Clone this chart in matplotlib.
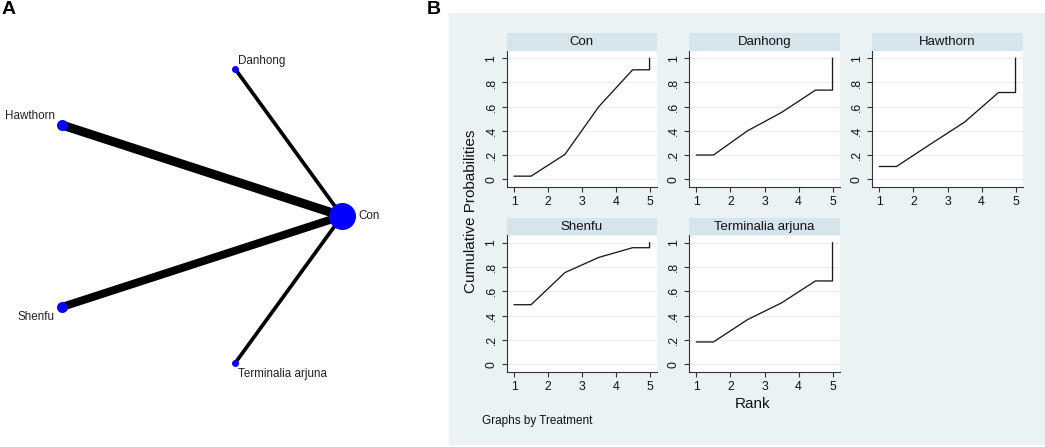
import numpy as np
import matplotlib
matplotlib.use("Agg")
import matplotlib.pyplot as plt
from matplotlib.patches import Rectangle

plt.rcParams['font.family'] = ['Liberation Sans', 'DejaVu Sans']

# ---------------- data ----------------
# Network (panel A)
nodes = ["Con", "Danhong", "Hawthorn", "Shenfu", "Terminalia arjuna"]
node_size = [27, 7, 11, 11, 7]          # marker diameter (px)
edges_to = ["Danhong", "Hawthorn", "Shenfu", "Terminalia arjuna"]
edge_weight = [3.7, 9.0, 8.0, 3.7]      # edge thickness (px)

# Cumulative ranking (panel B)
treatments = ["Con", "Danhong", "Hawthorn", "Shenfu", "Terminalia arjuna"]
ranks = [1, 2, 3, 4, 5]
cumprob = {
    "Con":               [0.025, 0.205, 0.600, 0.905, 1.0],
    "Danhong":           [0.200, 0.400, 0.552, 0.737, 1.0],
    "Hawthorn":          [0.105, 0.290, 0.472, 0.717, 1.0],
    "Shenfu":            [0.490, 0.755, 0.880, 0.960, 1.0],
    "Terminalia arjuna": [0.183, 0.367, 0.505, 0.686, 1.0],
}
yticks = [0, 0.2, 0.4, 0.6, 0.8, 1.0]
yticklabels = ["0", ".2", ".4", ".6", ".8", "1"]

# ---------------- figure ----------------
W, H = 1045, 447
fig = plt.figure(figsize=(W / 100, H / 100), dpi=100)
fig.patch.set_facecolor("white")

def rect(x0, y0, x1, y1):
    return [x0 / W, 1 - y1 / H, (x1 - x0) / W, (y1 - y0) / H]

PX = 72 / 100  # pixel -> points

# ---- panel A ----
axA = fig.add_axes([0, 0, 440 / W, 1])
axA.set_xlim(0, 440)
axA.set_ylim(H, 0)
axA.axis("off")
cx, cy, r = 187, 216, 155
angles = np.deg2rad(np.arange(len(nodes)) * 72.0)
pos = {n: (cx + r * np.cos(a), cy - r * np.sin(a)) for n, a in zip(nodes, angles)}
for n, w in zip(edges_to, edge_weight):
    x0, y0 = pos["Con"]
    x1, y1 = pos[n]
    axA.plot([x0, x1], [y0, y1], color="black", lw=w * PX,
             solid_capstyle="butt", zorder=1)
for n, s in zip(nodes, node_size):
    axA.scatter(*pos[n], s=(s * PX) ** 2, color="#0000FF", zorder=2, linewidths=0)
label_style = {
    "Con": dict(dx=16, dy=0, ha="left", va="center"),
    "Danhong": dict(dx=3, dy=-2, ha="left", va="bottom"),
    "Hawthorn": dict(dx=-7, dy=-3, ha="right", va="bottom"),
    "Shenfu": dict(dx=-7, dy=4, ha="right", va="top"),
    "Terminalia arjuna": dict(dx=3, dy=5, ha="left", va="top"),
}
for n in nodes:
    st = label_style[n]
    axA.text(pos[n][0] + st["dx"], pos[n][1] + st["dy"], n, ha=st["ha"],
             va=st["va"], fontsize=8.4, color="#222222")

fig.text(2 / W, 1 - 10 / H, "A", fontsize=14, fontweight="bold", va="center", ha="left")
fig.text(427 / W, 1 - 10 / H, "B", fontsize=14, fontweight="bold", va="center", ha="left")

# ---- panel B ----
bg = Rectangle((449 / W, 1 - 445 / H), (1045 - 449) / W, (445 - 13) / H,
               transform=fig.transFigure, facecolor="#EAF2F4", edgecolor="none", zorder=-10)
fig.patches.append(bg)

col_x = [(506.7, 657), (689, 840), (872, 1023)]
row_y = [(33.5, 51, 186.5), (218, 235.5, 371.5)]
axis_col = "#333333"
for i, t in enumerate(treatments):
    rr, cc = divmod(i, 3)
    x0, x1 = col_x[cc]
    hy0, py0, py1 = row_y[rr]
    hax = fig.add_axes(rect(x0, hy0, x1, py0))
    hax.set_facecolor("#D6E5EC")
    hax.set_xticks([]); hax.set_yticks([])
    for sp in hax.spines.values():
        sp.set_visible(False)
    hax.text(0.5, 0.5, t, ha="center", va="center", fontsize=9.5,
             transform=hax.transAxes, color="#111111")

    ax = fig.add_axes(rect(x0, py0, x1, py1))
    ax.set_facecolor("white")
    c = cumprob[t]
    xs = [ranks[0], ranks[0] + 0.5, ranks[1] + 0.5, ranks[2] + 0.5, ranks[3] + 0.5, ranks[4], ranks[4]]
    ys = [c[0], c[0], c[1], c[2], c[3], c[3], c[4]]
    ax.plot(xs, ys, color="#1a1a1a", lw=0.95, zorder=3)
    ax.set_xlim(0.78, 5.22)
    ax.set_ylim(-0.0606, 1.0606)
    ax.set_xticks(ranks)
    ax.set_xticklabels([str(k) for k in ranks])
    ax.set_yticks(yticks)
    ax.set_yticklabels(yticklabels, rotation=90, va="center")
    ax.grid(axis="y", color="#EBF1F3", lw=0.8)
    ax.set_axisbelow(True)
    for sp in ["top", "right"]:
        ax.spines[sp].set_visible(False)
    for sp in ["left", "bottom"]:
        ax.spines[sp].set_color(axis_col)
        ax.spines[sp].set_linewidth(0.8)
    ax.tick_params(direction="out", length=3.5, width=0.8, color=axis_col,
                   labelsize=8.8, pad=3.2, labelcolor="#111111")

fig.text(471 / W, 1 - 211 / H, "Cumulative Probabilities", rotation=90,
         ha="center", va="center", fontsize=11, color="#111111")
fig.text(753 / W, 1 - 404 / H, "Rank", ha="center", va="center", fontsize=11, color="#111111")
fig.text(482 / W, 1 - 421 / H, "Graphs by Treatment", ha="left", va="center",
         fontsize=8.5, color="#111111")

fig.savefig("out.png", dpi=100, facecolor="white")
